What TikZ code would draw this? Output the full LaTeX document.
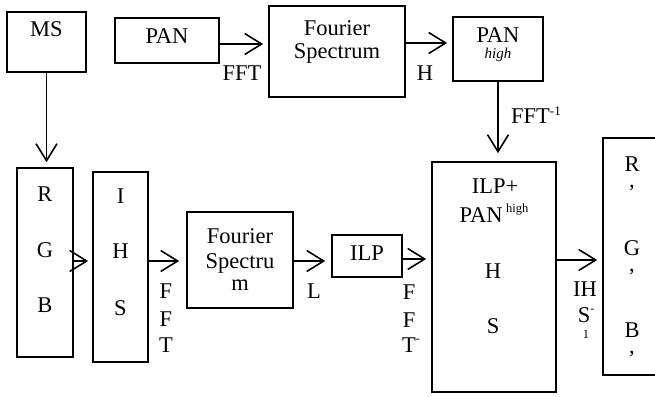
\documentclass[tikz,border=0pt]{standalone}
\usepackage{fontspec}
\setmainfont{Liberation Serif}
\usetikzlibrary{arrows.meta}
\begin{document}
\begin{tikzpicture}[x=1pt,y=-1pt,
  box/.style={draw,line width=1.6pt,inner sep=0pt},
  txt/.style={inner sep=0pt,anchor=base,font=\fontsize{22.5}{23}\selectfont},
  stacked/.style={inner sep=0pt,anchor=base,align=center,font=\fontsize{22.5}{23}\selectfont},
  lbl/.style={inner sep=0pt,anchor=base,font=\fontsize{22.5}{23}\selectfont},
  arr/.style={line width=1.6pt,-{Straight Barb[length=17pt,width=21pt,line width=1.6pt]},shorten >=5pt}]
\useasboundingbox (0,0) rectangle (655,396);
% boxes
\node[box,minimum width=79pt,minimum height=60pt] (ms) at (46.5,42) {};
\node[box,minimum width=104pt,minimum height=45pt] (pan) at (167,40.5) {};
\node[box,minimum width=136pt,minimum height=91pt] (f1) at (337,51.5) {};
\node[box,minimum width=90pt,minimum height=64pt] (panh) at (498,49) {};
\node[box,minimum width=56pt,minimum height=189pt] (rgb) at (45,262.5) {};
\node[box,minimum width=55pt,minimum height=190pt] (ihs) at (120.5,267) {};
\node[box,minimum width=106pt,minimum height=96pt] (f2) at (240,260) {};
\node[box,minimum width=70pt,minimum height=42pt] (ilp) at (367,256) {};
\node[box,minimum width=124pt,minimum height=230pt] (big) at (494,277) {};
\node[box,minimum width=60pt,minimum height=237pt] (rgbp) at (633,256.5) {};
% box texts
\node[txt] (tms) at (46.5,37) {MS};
\node[txt] (tpan) at (167,44) {PAN};
\node[txt] (tf1a) at (337,36) {Fourier};
\node[txt] (tf1b) at (337,59) {Spectrum};
\node[txt] (tpanh) at (498,42) {PAN};
\node[inner sep=0pt,anchor=base,font=\fontsize{15}{16}\selectfont\itshape] (thigh) at (498,59) {high};
\node[txt] (tr) at (45,201) {R};
\node[txt] (tg) at (45,257) {G};
\node[txt] (tb) at (45,312) {B};
\node[txt] (ti) at (120.5,203) {I};
\node[txt] (th) at (120.5,258) {H};
\node[txt] (ts) at (120.5,315) {S};
\node[txt] (tf2a) at (240,243) {Fourier};
\node[txt] (tf2b) at (240,268) {Spectru};
\node[txt] (tf2c) at (240,290) {m};
\node[txt] (tilp) at (367,260) {ILP};
\node[txt] (tbiga) at (495,193) {ILP+};
\node[txt] (tbigb) at (494,222) {PAN\,\raisebox{0.95ex}{\fontsize{12.5}{12}\selectfont high}};
\node[txt] (tbigh) at (493,278) {H};
\node[txt] (tbigs) at (493,333) {S};
\node[stacked] (trp) at (632,187) {R\\[-7pt],};
\node[stacked] (tgp) at (632,271) {G\\[-7pt],};
\node[stacked] (tbp) at (632,353) {B\\[-7pt],};
% connectors
\draw[arr] (ms.south) -- (ms.south |- rgb.north);
\draw[arr] (pan.east |- 0,44) -- (f1.west |- 0,44);
\draw[arr] (f1.east |- 0,43) -- (panh.west |- 0,43);
\draw[arr,shorten >=8pt] (panh.south) -- (panh.south |- big.north);
\draw[arr,shorten >=4pt] (rgb.east |- 0,261) -- (ihs.west |- 0,261);
\draw[arr,shorten >=7pt] (ihs.east |- 0,261) -- (f2.west |- 0,261);
\draw[arr,shorten >=6pt] (f2.east |- 0,261) -- (ilp.west |- 0,261);
\draw[arr] (ilp.east |- 0,259) -- (big.west |- 0,259);
\draw[arr] (big.east |- 0,260) -- (rgbp.west |- 0,260);
% connector labels
\node[lbl] (lfft) at (242,80) {FFT};
\node[lbl] (lh) at (425,80) {H};
\node[lbl,anchor=base west] (lifft) at (511,123) {FFT\raisebox{0.75ex}{\fontsize{13}{13}\selectfont -1}};
\node[lbl] (lf1) at (166,298) {F};
\node[lbl] (lf2) at (166,326) {F};
\node[lbl] (lf3) at (166,352) {T};
\node[lbl] (ll) at (314,298) {L};
\node[lbl] (lg1) at (409,299) {F};
\node[lbl] (lg2) at (409,327) {F};
\node[lbl] (lg3) at (411,352) {T\raisebox{0.9ex}{\fontsize{12}{12}\selectfont -}};
\node[lbl] (lk1) at (585,296) {IH};
\node[lbl] (lk2) at (586,322) {S\raisebox{0.9ex}{\fontsize{12}{12}\selectfont -}};
\node[inner sep=0pt,anchor=base,font=\fontsize{12.5}{12}\selectfont] (lk3) at (586,338) {1};
\end{tikzpicture}
\end{document}
